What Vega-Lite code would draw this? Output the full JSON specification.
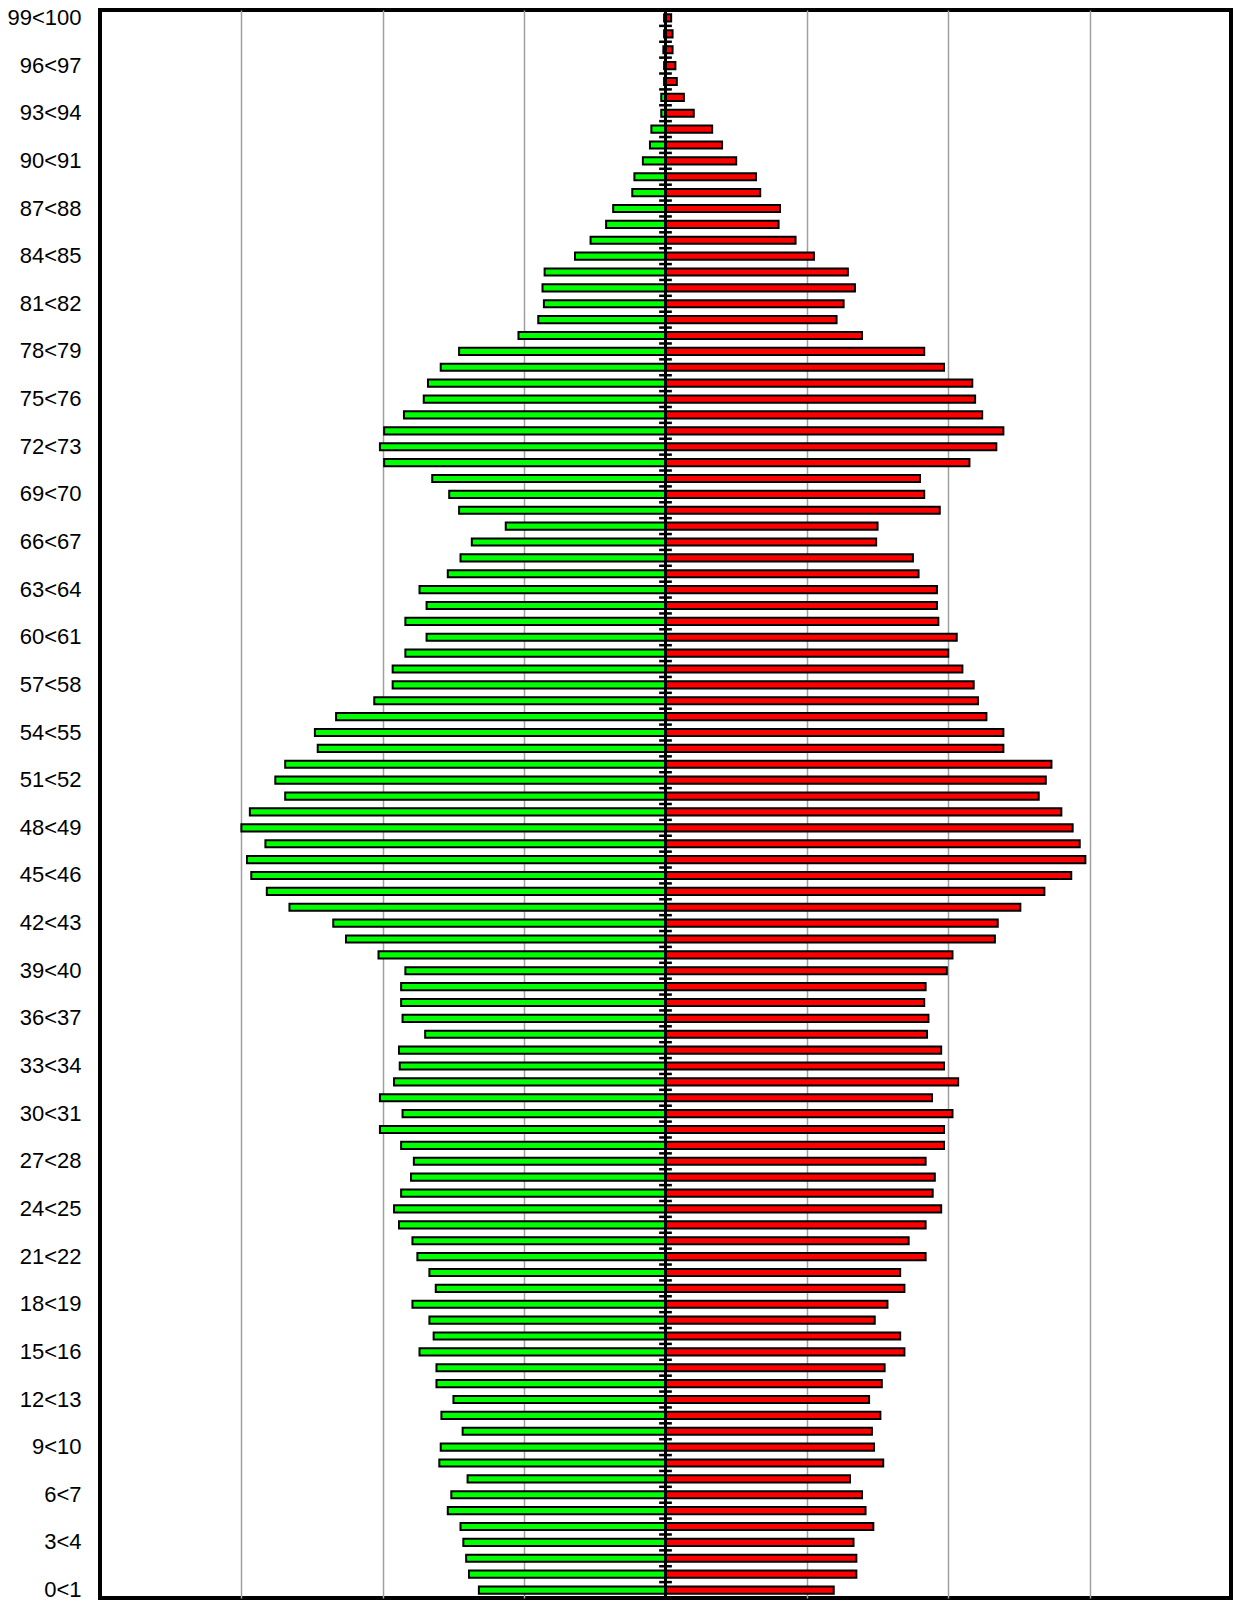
{
"$schema": "https://vega.github.io/schema/vega-lite/v6.json",
"width": 1131,
"height": 1588,
"autosize": "none",
"padding": {"left": 100, "top": 10, "right": 2, "bottom": 3},
"background": "white",
"config": {"view": {"stroke": "black", "strokeWidth": 4}},
"data": {"values": [
{"a":99,"age":"99<100","sex":"F","n":0.04},{"a":99,"age":"99<100","sex":"M","n":0.01},
{"a":98,"age":"98<99","sex":"F","n":0.05},{"a":98,"age":"98<99","sex":"M","n":0.01},
{"a":97,"age":"97<98","sex":"F","n":0.05},{"a":97,"age":"97<98","sex":"M","n":0.015},
{"a":96,"age":"96<97","sex":"F","n":0.07},{"a":96,"age":"96<97","sex":"M","n":0.01},
{"a":95,"age":"95<96","sex":"F","n":0.08},{"a":95,"age":"95<96","sex":"M","n":0.01},
{"a":94,"age":"94<95","sex":"F","n":0.13},{"a":94,"age":"94<95","sex":"M","n":0.03},
{"a":93,"age":"93<94","sex":"F","n":0.20},{"a":93,"age":"93<94","sex":"M","n":0.03},
{"a":92,"age":"92<93","sex":"F","n":0.33},{"a":92,"age":"92<93","sex":"M","n":0.10},
{"a":91,"age":"91<92","sex":"F","n":0.40},{"a":91,"age":"91<92","sex":"M","n":0.11},
{"a":90,"age":"90<91","sex":"F","n":0.50},{"a":90,"age":"90<91","sex":"M","n":0.16},
{"a":89,"age":"89<90","sex":"F","n":0.64},{"a":89,"age":"89<90","sex":"M","n":0.22},
{"a":88,"age":"88<89","sex":"F","n":0.67},{"a":88,"age":"88<89","sex":"M","n":0.235},
{"a":87,"age":"87<88","sex":"F","n":0.81},{"a":87,"age":"87<88","sex":"M","n":0.37},
{"a":86,"age":"86<87","sex":"F","n":0.80},{"a":86,"age":"86<87","sex":"M","n":0.42},
{"a":85,"age":"85<86","sex":"F","n":0.92},{"a":85,"age":"85<86","sex":"M","n":0.53},
{"a":84,"age":"84<85","sex":"F","n":1.05},{"a":84,"age":"84<85","sex":"M","n":0.64},
{"a":83,"age":"83<84","sex":"F","n":1.29},{"a":83,"age":"83<84","sex":"M","n":0.855},
{"a":82,"age":"82<83","sex":"F","n":1.34},{"a":82,"age":"82<83","sex":"M","n":0.87},
{"a":81,"age":"81<82","sex":"F","n":1.26},{"a":81,"age":"81<82","sex":"M","n":0.86},
{"a":80,"age":"80<81","sex":"F","n":1.21},{"a":80,"age":"80<81","sex":"M","n":0.90},
{"a":79,"age":"79<80","sex":"F","n":1.39},{"a":79,"age":"79<80","sex":"M","n":1.04},
{"a":78,"age":"78<79","sex":"F","n":1.83},{"a":78,"age":"78<79","sex":"M","n":1.46},
{"a":77,"age":"77<78","sex":"F","n":1.97},{"a":77,"age":"77<78","sex":"M","n":1.59},
{"a":76,"age":"76<77","sex":"F","n":2.17},{"a":76,"age":"76<77","sex":"M","n":1.68},
{"a":75,"age":"75<76","sex":"F","n":2.19},{"a":75,"age":"75<76","sex":"M","n":1.71},
{"a":74,"age":"74<75","sex":"F","n":2.24},{"a":74,"age":"74<75","sex":"M","n":1.85},
{"a":73,"age":"73<74","sex":"F","n":2.39},{"a":73,"age":"73<74","sex":"M","n":1.99},
{"a":72,"age":"72<73","sex":"F","n":2.34},{"a":72,"age":"72<73","sex":"M","n":2.02},
{"a":71,"age":"71<72","sex":"F","n":2.15},{"a":71,"age":"71<72","sex":"M","n":1.99},
{"a":70,"age":"70<71","sex":"F","n":1.80},{"a":70,"age":"70<71","sex":"M","n":1.65},
{"a":69,"age":"69<70","sex":"F","n":1.83},{"a":69,"age":"69<70","sex":"M","n":1.53},
{"a":68,"age":"68<69","sex":"F","n":1.94},{"a":68,"age":"68<69","sex":"M","n":1.46},
{"a":67,"age":"67<68","sex":"F","n":1.50},{"a":67,"age":"67<68","sex":"M","n":1.13},
{"a":66,"age":"66<67","sex":"F","n":1.49},{"a":66,"age":"66<67","sex":"M","n":1.37},
{"a":65,"age":"65<66","sex":"F","n":1.75},{"a":65,"age":"65<66","sex":"M","n":1.45},
{"a":64,"age":"64<65","sex":"F","n":1.79},{"a":64,"age":"64<65","sex":"M","n":1.54},
{"a":63,"age":"63<64","sex":"F","n":1.92},{"a":63,"age":"63<64","sex":"M","n":1.74},
{"a":62,"age":"62<63","sex":"F","n":1.92},{"a":62,"age":"62<63","sex":"M","n":1.69},
{"a":61,"age":"61<62","sex":"F","n":1.93},{"a":61,"age":"61<62","sex":"M","n":1.84},
{"a":60,"age":"60<61","sex":"F","n":2.06},{"a":60,"age":"60<61","sex":"M","n":1.69},
{"a":59,"age":"59<60","sex":"F","n":2.00},{"a":59,"age":"59<60","sex":"M","n":1.84},
{"a":58,"age":"58<59","sex":"F","n":2.10},{"a":58,"age":"58<59","sex":"M","n":1.93},
{"a":57,"age":"57<58","sex":"F","n":2.18},{"a":57,"age":"57<58","sex":"M","n":1.93},
{"a":56,"age":"56<57","sex":"F","n":2.21},{"a":56,"age":"56<57","sex":"M","n":2.06},
{"a":55,"age":"55<56","sex":"F","n":2.27},{"a":55,"age":"55<56","sex":"M","n":2.33},
{"a":54,"age":"54<55","sex":"F","n":2.39},{"a":54,"age":"54<55","sex":"M","n":2.48},
{"a":53,"age":"53<54","sex":"F","n":2.39},{"a":53,"age":"53<54","sex":"M","n":2.46},
{"a":52,"age":"52<53","sex":"F","n":2.73},{"a":52,"age":"52<53","sex":"M","n":2.69},
{"a":51,"age":"51<52","sex":"F","n":2.69},{"a":51,"age":"51<52","sex":"M","n":2.76},
{"a":50,"age":"50<51","sex":"F","n":2.64},{"a":50,"age":"50<51","sex":"M","n":2.69},
{"a":49,"age":"49<50","sex":"F","n":2.80},{"a":49,"age":"49<50","sex":"M","n":2.94},
{"a":48,"age":"48<49","sex":"F","n":2.88},{"a":48,"age":"48<49","sex":"M","n":3.00},
{"a":47,"age":"47<48","sex":"F","n":2.93},{"a":47,"age":"47<48","sex":"M","n":2.83},
{"a":46,"age":"46<47","sex":"F","n":2.97},{"a":46,"age":"46<47","sex":"M","n":2.96},
{"a":45,"age":"45<46","sex":"F","n":2.87},{"a":45,"age":"45<46","sex":"M","n":2.93},
{"a":44,"age":"44<45","sex":"F","n":2.68},{"a":44,"age":"44<45","sex":"M","n":2.82},
{"a":43,"age":"43<44","sex":"F","n":2.51},{"a":43,"age":"43<44","sex":"M","n":2.66},
{"a":42,"age":"42<43","sex":"F","n":2.35},{"a":42,"age":"42<43","sex":"M","n":2.35},
{"a":41,"age":"41<42","sex":"F","n":2.33},{"a":41,"age":"41<42","sex":"M","n":2.26},
{"a":40,"age":"40<41","sex":"F","n":2.03},{"a":40,"age":"40<41","sex":"M","n":2.03},
{"a":39,"age":"39<40","sex":"F","n":1.99},{"a":39,"age":"39<40","sex":"M","n":1.84},
{"a":38,"age":"38<39","sex":"F","n":1.84},{"a":38,"age":"38<39","sex":"M","n":1.87},
{"a":37,"age":"37<38","sex":"F","n":1.83},{"a":37,"age":"37<38","sex":"M","n":1.87},
{"a":36,"age":"36<37","sex":"F","n":1.86},{"a":36,"age":"36<37","sex":"M","n":1.86},
{"a":35,"age":"35<36","sex":"F","n":1.85},{"a":35,"age":"35<36","sex":"M","n":1.70},
{"a":34,"age":"34<35","sex":"F","n":1.95},{"a":34,"age":"34<35","sex":"M","n":1.885},
{"a":33,"age":"33<34","sex":"F","n":1.97},{"a":33,"age":"33<34","sex":"M","n":1.88},
{"a":32,"age":"32<33","sex":"F","n":2.07},{"a":32,"age":"32<33","sex":"M","n":1.92},
{"a":31,"age":"31<32","sex":"F","n":1.885},{"a":31,"age":"31<32","sex":"M","n":2.02},
{"a":30,"age":"30<31","sex":"F","n":2.03},{"a":30,"age":"30<31","sex":"M","n":1.86},
{"a":29,"age":"29<30","sex":"F","n":1.97},{"a":29,"age":"29<30","sex":"M","n":2.02},
{"a":28,"age":"28<29","sex":"F","n":1.97},{"a":28,"age":"28<29","sex":"M","n":1.87},
{"a":27,"age":"27<28","sex":"F","n":1.84},{"a":27,"age":"27<28","sex":"M","n":1.78},
{"a":26,"age":"26<27","sex":"F","n":1.905},{"a":26,"age":"26<27","sex":"M","n":1.80},
{"a":25,"age":"25<26","sex":"F","n":1.89},{"a":25,"age":"25<26","sex":"M","n":1.87},
{"a":24,"age":"24<25","sex":"F","n":1.95},{"a":24,"age":"24<25","sex":"M","n":1.92},
{"a":23,"age":"23<24","sex":"F","n":1.84},{"a":23,"age":"23<24","sex":"M","n":1.885},
{"a":22,"age":"22<23","sex":"F","n":1.72},{"a":22,"age":"22<23","sex":"M","n":1.79},
{"a":21,"age":"21<22","sex":"F","n":1.84},{"a":21,"age":"21<22","sex":"M","n":1.755},
{"a":20,"age":"20<21","sex":"F","n":1.66},{"a":20,"age":"20<21","sex":"M","n":1.67},
{"a":19,"age":"19<20","sex":"F","n":1.69},{"a":19,"age":"19<20","sex":"M","n":1.625},
{"a":18,"age":"18<19","sex":"F","n":1.57},{"a":18,"age":"18<19","sex":"M","n":1.79},
{"a":17,"age":"17<18","sex":"F","n":1.48},{"a":17,"age":"17<18","sex":"M","n":1.67},
{"a":16,"age":"16<17","sex":"F","n":1.66},{"a":16,"age":"16<17","sex":"M","n":1.64},
{"a":15,"age":"15<16","sex":"F","n":1.69},{"a":15,"age":"15<16","sex":"M","n":1.74},
{"a":14,"age":"14<15","sex":"F","n":1.55},{"a":14,"age":"14<15","sex":"M","n":1.62},
{"a":13,"age":"13<14","sex":"F","n":1.53},{"a":13,"age":"13<14","sex":"M","n":1.62},
{"a":12,"age":"12<13","sex":"F","n":1.44},{"a":12,"age":"12<13","sex":"M","n":1.50},
{"a":11,"age":"11<12","sex":"F","n":1.52},{"a":11,"age":"11<12","sex":"M","n":1.585},
{"a":10,"age":"10<11","sex":"F","n":1.46},{"a":10,"age":"10<11","sex":"M","n":1.435},
{"a":9,"age":"9<10","sex":"F","n":1.475},{"a":9,"age":"9<10","sex":"M","n":1.59},
{"a":8,"age":"8<9","sex":"F","n":1.54},{"a":8,"age":"8<9","sex":"M","n":1.60},
{"a":7,"age":"7<8","sex":"F","n":1.305},{"a":7,"age":"7<8","sex":"M","n":1.40},
{"a":6,"age":"6<7","sex":"F","n":1.39},{"a":6,"age":"6<7","sex":"M","n":1.515},
{"a":5,"age":"5<6","sex":"F","n":1.415},{"a":5,"age":"5<6","sex":"M","n":1.54},
{"a":4,"age":"4<5","sex":"F","n":1.47},{"a":4,"age":"4<5","sex":"M","n":1.45},
{"a":3,"age":"3<4","sex":"F","n":1.33},{"a":3,"age":"3<4","sex":"M","n":1.43},
{"a":2,"age":"2<3","sex":"F","n":1.35},{"a":2,"age":"2<3","sex":"M","n":1.41},
{"a":1,"age":"1<2","sex":"F","n":1.35},{"a":1,"age":"1<2","sex":"M","n":1.39},
{"a":0,"age":"0<1","sex":"F","n":1.19},{"a":0,"age":"0<1","sex":"M","n":1.32}
]},
"layer": [
{
"transform": [{"calculate": "datum.sex == 'M' ? -datum.n : datum.n", "as": "x"}],
"mark": {"type": "bar", "height": {"band": 0.45}, "stroke": "black", "strokeWidth": 2},
"encoding": {
"y": {"field": "age", "type": "ordinal", "sort": {"field": "a", "op": "max", "order": "descending"},
"scale": {"paddingInner": 0, "paddingOuter": 0},
"axis": {"title": null, "ticks": false, "domain": false, "grid": false, "labelPadding": 19, "labelFont": "Liberation Sans", "labelFontSize": 22, "labelColor": "black", "labelBound": false, "labelOverlap": false,
"values": ["0<1","3<4","6<7","9<10","12<13","15<16","18<19","21<22","24<25","27<28","30<31","33<34","36<37","39<40","42<43","45<46","48<49","51<52","54<55","57<58","60<61","63<64","66<67","69<70","72<73","75<76","78<79","81<82","84<85","87<88","90<91","93<94","96<97","99<100"]}},
"x": {"field": "x", "type": "quantitative", "scale": {"domain": [-4, 4], "nice": false, "zero": false},
"axis": {"title": null, "values": [-3, -2, -1, 1, 2, 3], "grid": true, "gridColor": "#a0a0a0", "gridWidth": 1.5, "labels": false, "ticks": false, "domain": false}},
"x2": {"datum": 0},
"color": {"field": "sex", "type": "nominal", "scale": {"domain": ["M", "F"], "range": ["#00ff00", "#ff0000"]}, "legend": null}
}
},
{
"data": {"values": [{}]},
"mark": {"type": "rule", "color": "black", "strokeWidth": 3},
"encoding": {"x": {"datum": 0}}
},
{
"transform": [{"filter": "datum.sex == 'F'"}],
"mark": {"type": "rule", "color": "black", "strokeWidth": 2.5},
"encoding": {
"y": {"field": "age", "type": "ordinal", "bandPosition": 0, "sort": {"field": "a", "op": "max", "order": "descending"}, "scale": {"paddingInner": 0, "paddingOuter": 0}},
"x": {"datum": -0.045},
"x2": {"datum": 0.045}
}
}
]
}
